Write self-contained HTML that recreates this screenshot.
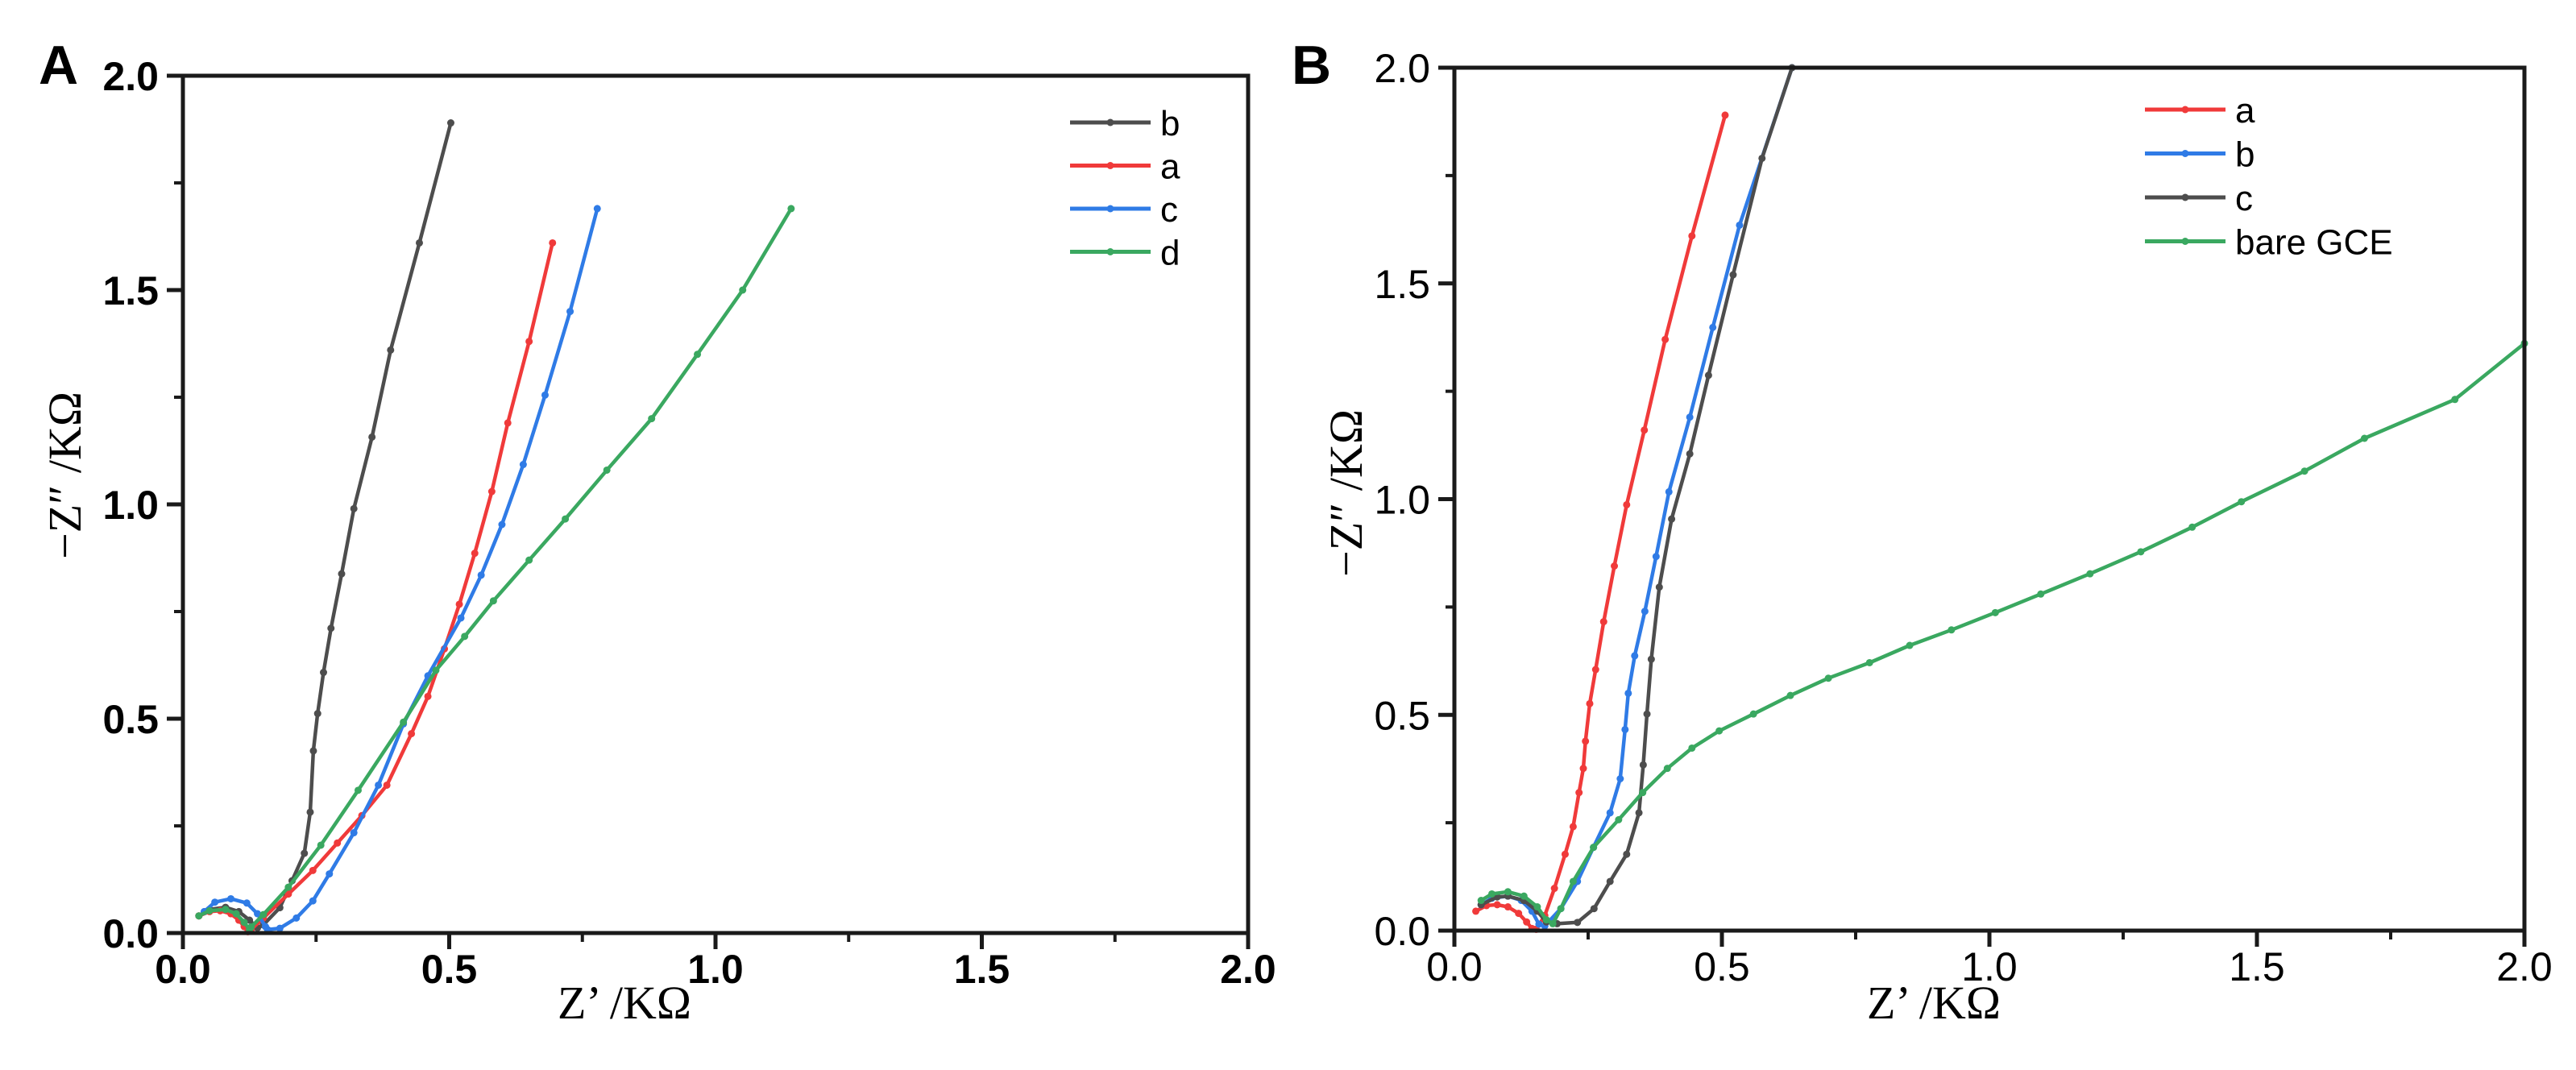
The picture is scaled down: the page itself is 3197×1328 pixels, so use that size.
<!DOCTYPE html>
<html><head><meta charset="utf-8">
<style>
html,body{margin:0;padding:0;background:#fff;}
svg{display:block;}
</style></head>
<body>
<svg id="fig" width="3197" height="1328" viewBox="0 0 3197 1328" xmlns="http://www.w3.org/2000/svg">
<rect width="3197" height="1328" fill="#fff"/>
<g id="panelA"></g>
<g id="panelB"></g>
</svg>
<script>
// Panel A data (Z' , -Z'')
const aB_x = [0.03,0.05,0.08,0.105,0.125,0.14,0.151,0.182,0.205,0.228,0.239,0.245,0.253,0.264,0.278,0.298,0.321,0.355,0.39,0.444,0.503];
const aB_y = [0.04,0.055,0.06,0.05,0.03,0.012,0.019,0.059,0.122,0.186,0.282,0.425,0.512,0.608,0.711,0.838,0.99,1.157,1.36,1.61,1.89];
const aA_x = [0.03,0.05,0.07,0.09,0.105,0.115,0.122,0.128,0.151,0.198,0.244,0.29,0.336,0.383,0.429,0.46,0.491,0.519,0.548,0.58,0.61,0.65,0.694];
const aA_y = [0.04,0.05,0.052,0.045,0.03,0.015,0.003,0.008,0.035,0.091,0.146,0.21,0.274,0.345,0.465,0.552,0.663,0.767,0.886,1.03,1.19,1.38,1.61];
const aC_x = [0.04,0.06,0.09,0.12,0.14,0.155,0.159,0.182,0.213,0.244,0.275,0.321,0.367,0.414,0.46,0.522,0.56,0.599,0.639,0.68,0.727,0.778];
const aC_y = [0.05,0.072,0.08,0.07,0.045,0.015,0.008,0.011,0.035,0.075,0.138,0.234,0.345,0.488,0.6,0.735,0.835,0.953,1.093,1.255,1.45,1.69];
const aD_x = [0.03,0.05,0.08,0.1,0.115,0.125,0.128,0.151,0.198,0.259,0.329,0.414,0.475,0.529,0.583,0.65,0.718,0.796,0.88,0.966,1.051,1.142];
const aD_y = [0.04,0.052,0.055,0.045,0.025,0.008,0.014,0.043,0.107,0.205,0.333,0.492,0.613,0.692,0.775,0.87,0.966,1.08,1.2,1.35,1.5,1.69];
// Panel B data
const bA_x = [0.04,0.06,0.08,0.1,0.12,0.135,0.145,0.153,0.169,0.187,0.207,0.222,0.233,0.241,0.245,0.253,0.264,0.279,0.299,0.322,0.355,0.394,0.444,0.506];
const bA_y = [0.045,0.058,0.06,0.055,0.04,0.02,0.005,0.003,0.035,0.098,0.177,0.241,0.32,0.376,0.439,0.526,0.605,0.716,0.845,0.987,1.16,1.37,1.61,1.89];
const bB_x = [0.05,0.07,0.1,0.125,0.145,0.158,0.169,0.199,0.23,0.26,0.291,0.31,0.319,0.325,0.337,0.356,0.377,0.401,0.44,0.483,0.533,0.631];
const bB_y = [0.06,0.075,0.08,0.07,0.045,0.015,0.011,0.051,0.114,0.193,0.273,0.352,0.466,0.55,0.637,0.74,0.867,1.017,1.19,1.398,1.635,2.0];
const bC_x = [0.05,0.08,0.1,0.13,0.155,0.172,0.192,0.23,0.261,0.291,0.322,0.345,0.353,0.36,0.368,0.383,0.406,0.44,0.475,0.521,0.575,0.631];
const bC_y = [0.06,0.078,0.08,0.07,0.045,0.02,0.016,0.019,0.051,0.114,0.177,0.273,0.384,0.502,0.629,0.796,0.954,1.105,1.287,1.52,1.79,2.0];
const bD_x = [0.05,0.07,0.1,0.13,0.155,0.172,0.184,0.199,0.222,0.26,0.307,0.352,0.398,0.444,0.495,0.559,0.628,0.699,0.776,0.851,0.929,1.011,1.096,1.188,1.283,1.379,1.471,1.589,1.701,1.87,2.0];
const bD_y = [0.07,0.085,0.09,0.08,0.055,0.025,0.016,0.051,0.114,0.193,0.257,0.32,0.376,0.423,0.463,0.502,0.545,0.585,0.621,0.661,0.697,0.737,0.78,0.827,0.878,0.935,0.994,1.065,1.141,1.231,1.361];
const ticksMajor = [0, 0.5, 1.0, 1.5, 2.0];
const tickLabels = ["0.0","0.5","1.0","1.5","2.0"];
const ticksMinor = [0.25, 0.75, 1.25, 1.75];
const legendA = ["b","a","c","d"];
const legendB = ["a","b","c","bare GCE"];

const NS = "http://www.w3.org/2000/svg";
function mk(parent, tag, attrs, text){
  const e = document.createElementNS(NS, tag);
  for (const k in attrs) e.setAttribute(k, attrs[k]);
  if (text !== undefined) e.textContent = text;
  parent.appendChild(e);
  return e;
}
function panel(g, box, bold, series, legendNames, legPos, letter, letterPos, xTitlePos, yTitlePos){
  const sx = v => box.l + (box.r - box.l) * v / 2;
  const sy = v => box.b - (box.b - box.t) * v / 2;
  const clip = mk(g, "clipPath", {id: "clip" + letter});
  mk(clip, "rect", {x: box.l, y: box.t, width: box.r - box.l, height: box.b - box.t});
  const fw = bold ? "bold" : "normal";
  ticksMajor.forEach((v, i) => {
    const tx = mk(g, "line", {x1: sx(v), x2: sx(v), y1: box.b, y2: box.b + 20, stroke: "#1a1a1a", "stroke-width": 5});
    
    
    const ty = mk(g, "line", {x1: box.l - 20, x2: box.l, y1: sy(v), y2: sy(v), stroke: "#1a1a1a", "stroke-width": 5});
    
    
    const lx = mk(g, "text", {x: sx(v), y: box.b + 62, "text-anchor": "middle", "font-family": "Liberation Sans, sans-serif", "font-size": 50, "font-weight": fw, fill: "#000"}, tickLabels[i]);
    
    
    const ly = mk(g, "text", {x: box.l - 30, y: sy(v) + 18, "text-anchor": "end", "font-family": "Liberation Sans, sans-serif", "font-size": 50, "font-weight": fw, fill: "#000"}, tickLabels[i]);
    
    
  });
  ticksMinor.forEach(v => {
    const a = mk(g, "line", {x1: sx(v), x2: sx(v), y1: box.b, y2: box.b + 11, stroke: "#1a1a1a", "stroke-width": 4});
    
    
    const b = mk(g, "line", {x1: box.l - 11, x2: box.l, y1: sy(v), y2: sy(v), stroke: "#1a1a1a", "stroke-width": 4});
    
    
  });
  series.forEach(s => {
    const pts = s.x.map((v, i) => sx(v).toFixed(1) + "," + sy(s.y[i]).toFixed(1)).join(" ");
    const pl = mk(g, "polyline", {points: pts, fill: "none", stroke: s.c, "stroke-width": 4.5, "stroke-linejoin": "round", "clip-path": "url(#clip" + letter + ")"});
    
    
    s.x.forEach((v, i) => {
      if (s.y[i] > 2) return;
      const m = mk(g, "circle", {cx: sx(v), cy: sy(s.y[i]), r: 4.5, fill: s.c});
      
      
    });
  });
  const fr = mk(g, "rect", {x: box.l, y: box.t, width: box.r - box.l, height: box.b - box.t, fill: "none", stroke: "#1a1a1a", "stroke-width": 5});
  
  
  legendNames.forEach((nm, i) => {
    const s = series.find(q => q.n === nm);
    const y = legPos.y + i * legPos.dy;
    const ln = mk(g, "line", {x1: legPos.x, x2: legPos.x + 100, y1: y, y2: y, stroke: s.c, "stroke-width": 5});
    
    
    const dt = mk(g, "circle", {cx: legPos.x + 50, cy: y, r: 4.5, fill: s.c});
    
    
    const tx = mk(g, "text", {x: legPos.x + 112, y: y + 16, "font-family": "Liberation Sans, sans-serif", "font-size": 44, fill: "#000"}, nm);
    
    
  });
  const L = mk(g, "text", {x: letterPos.x, y: letterPos.y, "font-family": "Liberation Sans, sans-serif", "font-size": 68, "font-weight": "bold", fill: "#000"}, letter);
  
  
  const xt = mk(g, "text", {x: xTitlePos.x, y: xTitlePos.y, "text-anchor": "middle", "font-family": "Liberation Serif, serif", "font-size": 58, fill: "#000"}, "Z’ /KΩ");
  
  
  const yt = mk(g, "text", {x: 0, y: 0, "text-anchor": "middle", "font-family": "Liberation Serif, serif", "font-size": 58, fill: "#000", transform: "translate(" + yTitlePos.x + "," + yTitlePos.y + ") rotate(-90)"}, "−Z″ /KΩ");
  
  
}
panel(document.getElementById("panelA"), {l: 227, r: 1549, t: 94, b: 1158}, true, [
  {n: "b", x: aB_x, y: aB_y, c: "#4d4d4d"},
  {n: "a", x: aA_x, y: aA_y, c: "#f03a3a"},
  {n: "c", x: aC_x, y: aC_y, c: "#2f7be6"},
  {n: "d", x: aD_x, y: aD_y, c: "#3aa860"}
], legendA, {x: 1328, y: 152, dy: 53.5}, "A", {x: 48, y: 104}, {x: 775, y: 1264}, {x: 100, y: 590});
panel(document.getElementById("panelB"), {l: 1805, r: 3133, t: 84, b: 1155}, false, [
  {n: "a", x: bA_x, y: bA_y, c: "#f03a3a"},
  {n: "b", x: bB_x, y: bB_y, c: "#2f7be6"},
  {n: "c", x: bC_x, y: bC_y, c: "#4d4d4d"},
  {n: "bare GCE", x: bD_x, y: bD_y, c: "#3aa860"}
], legendB, {x: 2662, y: 136, dy: 54.5}, "B", {x: 1603, y: 104}, {x: 2400, y: 1264}, {x: 1690, y: 612});
</script>
</body></html>
